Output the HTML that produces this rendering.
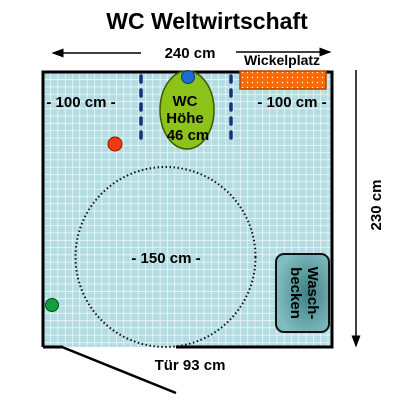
<!DOCTYPE html>
<html><head><meta charset="utf-8"><style>body{margin:0;background:#fff}svg{display:block;font-family:"Liberation Sans",sans-serif;font-weight:bold}</style></head><body>
<svg width="400" height="400" viewBox="0 0 400 400">
<defs>
<pattern id="grid" width="7.3" height="7.3" patternUnits="userSpaceOnUse" x="43" y="72"><rect width="7.3" height="7.3" fill="#b3dde2"/><path d="M0 0H7.3M0 0V7.3" stroke="#fff" stroke-width="1.2"/></pattern>
<pattern id="dots" width="5" height="5" patternUnits="userSpaceOnUse"><rect width="5" height="5" fill="#ff6a00"/><circle cx="2.5" cy="2.5" r="0.7" fill="#fff"/></pattern>
<radialGradient id="sink" cx="0.6" cy="0.5" r="0.6"><stop offset="0" stop-color="#3f7f82"/><stop offset="1" stop-color="#7fbdc1"/></radialGradient>
<marker id="ah" markerWidth="8" markerHeight="8" refX="7" refY="4" orient="auto"><path d="M0 1L8 4L0 7Z" fill="#000"/></marker>
</defs>
<text x="207" y="29" font-size="23" text-anchor="middle">WC Weltwirtschaft</text>
<rect x="43" y="72" width="289" height="275" fill="url(#grid)"/>
<path d="M43 347V72H332V347H176M63 347H43" fill="none" stroke="#000" stroke-width="3"/>
<line x1="62" y1="347" x2="176" y2="393" stroke="#000" stroke-width="2.5"/>
<text x="190" y="370" font-size="15" text-anchor="middle">Tür 93 cm</text>
<line x1="141" y1="53" x2="53" y2="53" stroke="#000" stroke-width="1.5" marker-end="url(#ah)"/>
<line x1="236" y1="52" x2="330" y2="52" stroke="#000" stroke-width="1.5" marker-end="url(#ah)"/>
<text x="190" y="58" font-size="15" text-anchor="middle">240 cm</text>
<line x1="356" y1="70" x2="356" y2="346" stroke="#000" stroke-width="1.5" marker-end="url(#ah)"/>
<text transform="translate(381,205) rotate(-90)" font-size="15" text-anchor="middle">230 cm</text>
<text x="282" y="65" font-size="14" text-anchor="middle">Wickelplatz</text>
<rect x="240" y="71" width="86" height="18" fill="url(#dots)" stroke="#b34a00" stroke-width="1.5"/>
<g stroke="#1a2f7a" stroke-width="3.5" stroke-linecap="round" stroke-dasharray="6 8">
<line x1="141" y1="76" x2="141" y2="146"/><line x1="231" y1="76" x2="231" y2="146"/></g>
<ellipse cx="187" cy="110" rx="27" ry="39" fill="#8cc21a" stroke="#3a5a00" stroke-width="1.5"/>
<circle cx="188" cy="77" r="6.5" fill="#1a6fd0" stroke="#0a3a80"/>
<text font-size="15" text-anchor="middle"><tspan x="185" y="106">WC</tspan><tspan x="185" y="123">Höhe</tspan><tspan x="188" y="140">46 cm</tspan></text>
<text x="81" y="107" font-size="15" text-anchor="middle">- 100 cm -</text>
<text x="292" y="107" font-size="15" text-anchor="middle">- 100 cm -</text>
<circle cx="115" cy="144" r="7" fill="#f03a10" stroke="#8a1a00"/>
<circle cx="165.5" cy="257" r="90" fill="none" stroke="#111" stroke-width="2" stroke-dasharray="1.5 2.5"/>
<text x="166" y="263" font-size="15" text-anchor="middle">- 150 cm -</text>
<circle cx="52" cy="305" r="6.5" fill="#10a040" stroke="#054a1a"/>
<rect x="276" y="254" width="53" height="78" rx="8" fill="url(#sink)" stroke="#111" stroke-width="2"/>
<text transform="translate(303,293) rotate(90)" font-size="15" text-anchor="middle"><tspan x="0" y="-5">Wasch-</tspan><tspan x="0" y="12">becken</tspan></text>
</svg>
</body></html>
